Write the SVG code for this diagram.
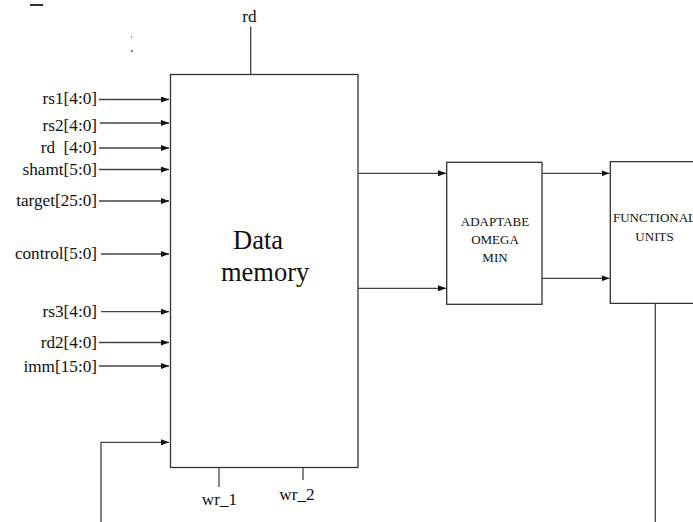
<svg xmlns="http://www.w3.org/2000/svg" width="693" height="522" viewBox="0 0 693 522">
<style>
  .box { fill: #fff; stroke: #333; stroke-width: 1.3; }
  .ln { fill: none; stroke: #444; stroke-width: 1.3; }
  .lbl { font-family: "Liberation Serif", "Times New Roman", serif; font-size: 17.2px; fill: #111; white-space: pre; }
  .in { text-anchor: end; }
  .sm { font-family: "Liberation Serif", "Times New Roman", serif; font-size: 13px; fill: #111; text-anchor: middle; }
  .big { font-family: "Liberation Serif", "Times New Roman", serif; font-size: 26.5px; fill: #111; }
</style>
<defs>
  <marker id="ah" markerWidth="8" markerHeight="6" refX="8" refY="3" orient="auto" markerUnits="userSpaceOnUse">
    <path d="M0,0 L8,3 L0,6 Z" fill="#111"/>
  </marker>
</defs>

<g id="artifacts" fill="#333">
  <rect x="30" y="4" width="13" height="2"/>
  <rect x="131" y="36" width="1" height="2" fill="#888"/>
  <rect x="131" y="50" width="1.5" height="2" fill="#555"/>
</g>

<g id="data-memory">
  <rect class="box" x="170.5" y="74.5" width="187.5" height="393"/>
  <text class="big" x="233" y="249">Data</text>
  <text class="big" x="221" y="281">memory</text>
</g>

<g id="adaptabe-omega-min">
  <rect class="box" x="446.7" y="162.3" width="95.3" height="142"/>
  <text class="sm" x="495" y="226">ADAPTABE</text>
  <text class="sm" x="495" y="244">OMEGA</text>
  <text class="sm" x="495" y="262">MIN</text>
</g>

<g id="functional-units">
  <path class="box" d="M700,161.7 H610.3 V303.3 H700"/>
  <text class="sm" x="654.5" y="222">FUNCTIONAL</text>
  <text class="sm" x="654.5" y="240.5">UNITS</text>
</g>

<g id="labels">
  <text class="lbl" x="249.5" y="21.5" text-anchor="middle">rd</text>
  <text class="lbl in" x="97" y="103.5">rs1[4:0]</text>
  <text class="lbl in" x="97" y="130.5">rs2[4:0]</text>
  <text class="lbl in" x="97" y="153">rd  [4:0]</text>
  <text class="lbl in" x="97" y="175">shamt[5:0]</text>
  <text class="lbl in" x="97" y="206">target[25:0]</text>
  <text class="lbl in" x="97" y="258.5">control[5:0]</text>
  <text class="lbl in" x="97" y="316.5">rs3[4:0]</text>
  <text class="lbl in" x="97" y="348">rd2[4:0]</text>
  <text class="lbl in" x="97" y="371.5">imm[15:0]</text>
  <text class="lbl" x="219.5" y="505" text-anchor="middle">wr_1</text>
  <text class="lbl" x="297" y="500" text-anchor="middle">wr_2</text>
</g>

<g id="connectors">
  <line class="ln" x1="250.7" y1="26.5" x2="250.7" y2="74.5"/>
  <line class="ln" x1="99" y1="99.5" x2="169" y2="99.5" marker-end="url(#ah)"/>
  <line class="ln" x1="100" y1="123" x2="169" y2="123" marker-end="url(#ah)"/>
  <line class="ln" x1="99" y1="148" x2="169" y2="148" marker-end="url(#ah)"/>
  <line class="ln" x1="99" y1="169.5" x2="169" y2="169.5" marker-end="url(#ah)"/>
  <line class="ln" x1="99" y1="201" x2="169" y2="201" marker-end="url(#ah)"/>
  <line class="ln" x1="101" y1="254" x2="169" y2="254" marker-end="url(#ah)"/>
  <line class="ln" x1="101" y1="311.7" x2="169" y2="311.7" marker-end="url(#ah)"/>
  <line class="ln" x1="99" y1="342.5" x2="169" y2="342.5" marker-end="url(#ah)"/>
  <line class="ln" x1="99" y1="366" x2="169" y2="366" marker-end="url(#ah)"/>
  <path class="ln" d="M101,522 V442.3 H169" marker-end="url(#ah)"/>
  <line class="ln" x1="219" y1="467.5" x2="219" y2="487"/>
  <line class="ln" x1="303" y1="467.5" x2="303" y2="480"/>
  <line class="ln" x1="358" y1="173.3" x2="446" y2="173.3" marker-end="url(#ah)"/>
  <line class="ln" x1="358" y1="288.3" x2="446" y2="288.3" marker-end="url(#ah)"/>
  <line class="ln" x1="542" y1="173.3" x2="609.5" y2="173.3" marker-end="url(#ah)"/>
  <line class="ln" x1="542" y1="278.3" x2="609.5" y2="278.3" marker-end="url(#ah)"/>
  <line class="ln" x1="655.3" y1="303.3" x2="655.3" y2="522"/>
</g>
</svg>
